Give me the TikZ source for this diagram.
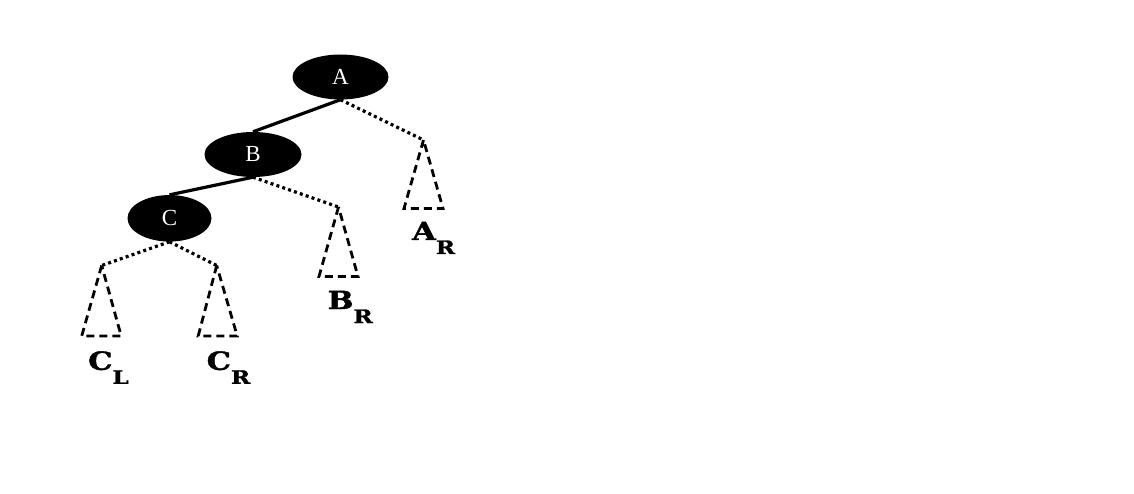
\documentclass[tikz,border=0pt]{standalone}
\usepackage{graphicx}
\usepackage{fontspec}
\newfontfamily\nodefont{Liberation Serif}
\newfontfamily\labelfont[BoldFeatures={FakeBold=1.5}]{DejaVu Serif}
\usetikzlibrary{shapes.geometric}
\tikzset{
  treenode/.style={ellipse, fill=black, draw=none, inner sep=0pt, text=white, font=\nodefont\fontsize{23}{23}\selectfont},
  solidedge/.style={line width=3.2pt},
  dotedge/.style={line width=3.2pt, dash pattern=on 3pt off 3.2pt},
  subtree/.style={line width=2.8pt, dash pattern=on 8pt off 5pt},
  sublabel/.style={anchor=base west, inner sep=0pt, font=\labelfont\bfseries\fontsize{25}{25}\selectfont}
}
\newcommand{\mainl}[1]{\scalebox{1.22}[1]{#1}}
\newcommand{\subl}[1]{\raisebox{-14pt}{\labelfont\bfseries\fontsize{18.5}{18.5}\selectfont\scalebox{1.25}[1]{#1}}}
\begin{document}
\begin{tikzpicture}[x=1pt,y=-1pt]
\useasboundingbox (0,0) rectangle (1134,494);
% nodes
\node[treenode, minimum width=96pt, minimum height=45pt] (nA) at (340.5,77) {A};
\node[treenode, minimum width=97pt, minimum height=45pt] (nB) at (253,154.5) {B};
\node[treenode, minimum width=84pt, minimum height=46.5pt] (nC) at (169.5,218.3) {C};
% subtree apexes
\coordinate (ar) at (423.5,140);
\coordinate (br) at (338.5,207);
\coordinate (cl) at (101.7,265.5);
\coordinate (cr) at (216.7,265.5);
% edges
\draw[solidedge] (nA.south) -- (nB.north);
\draw[solidedge] (nB.south) -- (nC.north);
\draw[dotedge] (nA.south) -- (ar);
\draw[dotedge] (nB.south) -- (br);
\draw[dotedge] (nC.south) -- (cl);
\draw[dotedge] (nC.south) -- (cr);
% subtrees
\draw[subtree] (ar) -- ++(-19.5,68.5) -- ++(39,0) -- cycle;
\draw[subtree] (br) -- ++(-19.5,69.5) -- ++(39,0) -- cycle;
\draw[subtree] (cl) -- ++(-20,70.5) -- ++(39.5,0) -- cycle;
\draw[subtree] (cr) -- ++(-18.5,70.5) -- ++(39,0) -- cycle;
% labels
\node[sublabel] (lAR) at (412,240) {\mainl{A}\subl{R}};
\node[sublabel] (lBR) at (327.5,309) {\mainl{B}\subl{R}};
\node[sublabel] (lCL) at (88,369.8) {\mainl{C}\subl{L}};
\node[sublabel] (lCR) at (206.5,369.8) {\mainl{C}\subl{R}};
\end{tikzpicture}
\end{document}
